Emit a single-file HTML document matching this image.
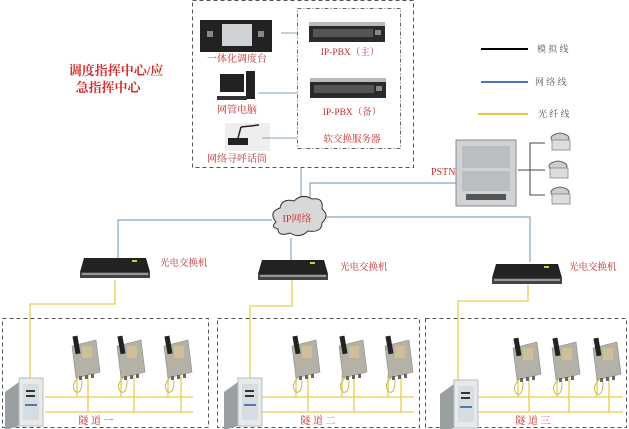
<!DOCTYPE html>
<html><head><meta charset="utf-8"><style>
html,body{margin:0;padding:0;background:#fff;width:629px;height:429px;overflow:hidden}
text{font-family:"Liberation Serif","Noto Serif CJK SC",serif}
</style></head><body>
<svg width="629" height="429" viewBox="0 0 629 429" xmlns="http://www.w3.org/2000/svg">
<defs>
<g id="srv"><rect x="0" y="0" width="76" height="20" fill="#2a2a2a"/><rect x="0" y="0" width="76" height="4" fill="#bbb"/><rect x="4" y="7" width="60" height="8" fill="#555"/><rect x="66" y="8" width="6" height="5" fill="#888"/></g>
<g id="sw"><polygon points="4,0 66,0 70,14 0,14" fill="#222"/><rect x="0" y="14" width="70" height="6" fill="#444"/><rect x="2" y="15" width="66" height="2" fill="#999"/><rect x="52" y="2" width="5" height="2" fill="#cc4"/></g>
<g id="ph"><polygon points="2,10 26,4 30,36 6,42" fill="#b4b2a6" stroke="#888" stroke-width="0.6"/><rect x="4" y="0" width="5" height="18" fill="#222" transform="rotate(-10 6 9)"/><rect x="12" y="10" width="10" height="12" fill="#cdbf98"/><path d="M8,42 q-8,8 -2,14 q6,2 6,-12" fill="none" stroke="#c8b560" stroke-width="1"/><rect x="9" y="40" width="3" height="4" fill="#666"/><rect x="15" y="39" width="3" height="4" fill="#666"/><rect x="21" y="38" width="3" height="4" fill="#666"/></g>
<g id="box"><polygon points="0,14 14,4 14,48 0,52" fill="#9a9fa2"/><rect x="14" y="0" width="24" height="48" fill="#e6eaec" stroke="#bbb"/><rect x="18" y="6" width="16" height="36" fill="#d6dcdf"/><rect x="21" y="12" width="9" height="2" fill="#333"/><rect x="21" y="17" width="9" height="2" fill="#333"/><rect x="20" y="26" width="12" height="2" fill="#57a"/></g>
<g id="tel"><path d="M4,8 q-4,-6 8,-8 q12,2 8,8" fill="#ccc" stroke="#666" stroke-width="1"/><rect x="4" y="7" width="18" height="10" fill="#ddd" stroke="#888" stroke-width="0.8"/></g>
</defs>

<rect x="192.5" y="0.5" width="221" height="167" fill="none" stroke="#555" stroke-dasharray="4,3"/>
<rect x="297.5" y="8.5" width="103" height="140" fill="none" stroke="#666" stroke-dasharray="4,2,1,2"/>

<rect x="200" y="20" width="72" height="32" fill="#222"/>
<rect x="222" y="24" width="30" height="22" fill="#cfd3d6"/>
<rect x="207" y="31" width="6" height="6" fill="#888"/><rect x="258" y="31" width="6" height="6" fill="#888"/>
<text x="237" y="62" font-size="10" fill="#c03030" text-anchor="middle">一体化调度台</text>
<line x1="281" y1="33" x2="297" y2="33" stroke="#7fa6c0"/>
<rect x="220" y="74" width="24" height="18" fill="#222"/><rect x="246" y="71" width="9" height="28" fill="#222"/><rect x="217" y="96" width="30" height="4" fill="#333"/>
<text x="237" y="113" font-size="10" fill="#c03030" text-anchor="middle">网管电脑</text>
<line x1="258" y1="93" x2="297" y2="93" stroke="#7fa6c0"/>
<rect x="225" y="123" width="45" height="28" fill="#eee"/>
<rect x="228" y="138" width="20" height="7" fill="#222"/><line x1="238" y1="138" x2="241" y2="127" stroke="#222" stroke-width="1.5"/><line x1="241" y1="127" x2="259" y2="125" stroke="#222" stroke-width="1.5"/>
<text x="237" y="162" font-size="10" fill="#c03030" text-anchor="middle">网络寻呼话筒</text>
<line x1="262" y1="138" x2="297" y2="138" stroke="#7fa6c0"/>
<use href="#srv" x="309" y="22"/><use href="#srv" x="310" y="78"/>
<text x="350" y="55" font-size="9.5" fill="#c03030" text-anchor="middle">IP-PBX（主）</text>
<text x="352" y="115" font-size="9.5" fill="#c03030" text-anchor="middle">IP-PBX（备）</text>
<text x="352" y="142" font-size="9.5" fill="#c03030" text-anchor="middle">软交换服务器</text>

<text x="116" y="75" font-size="13" fill="#d03030" text-anchor="middle" font-weight="bold">调度指挥中心/应</text>
<text x="108" y="92" font-size="13" fill="#d03030" text-anchor="middle" font-weight="bold">急指挥中心</text>

<line x1="481" y1="49" x2="528" y2="49" stroke="#000" stroke-width="2"/>
<line x1="481" y1="82" x2="528" y2="82" stroke="#4a78c0" stroke-width="2"/>
<line x1="478" y1="114" x2="528" y2="114" stroke="#e8c840" stroke-width="2"/>
<text x="537" y="52" font-size="9" fill="#556">模 拟 线</text>
<text x="535" y="85" font-size="9" fill="#556">网 络 线</text>
<text x="538" y="117" font-size="9" fill="#556">光 纤 线</text>

<g stroke="#8aa8be" fill="none" stroke-width="1.2">
<polyline points="301,168 301,203"/>
<polyline points="310,206 310,183 456,183"/>
<polyline points="272,220 118,220 118,258"/>
<polyline points="291,238 291,260"/>
<polyline points="325,217 530,217 530,262"/>
</g>
<path d="M276,222 q-8,-10 4,-14 q2,-10 14,-7 q8,-8 18,-2 q12,-2 10,10 q8,6 0,14 q0,10 -14,8 q-8,8 -18,2 q-12,4 -12,-4 q-8,-2 -2,-7z" fill="#d8d8d8" stroke="#333" stroke-width="1"/>
<text x="297" y="222" font-size="10" fill="#c03030" text-anchor="middle">IP网络</text>

<rect x="456" y="140" width="60" height="66" fill="#d0d3d6" stroke="#888"/>
<rect x="462" y="146" width="48" height="22" fill="#b8bec2"/><rect x="462" y="171" width="48" height="20" fill="#b8bec2"/>
<rect x="466" y="194" width="40" height="6" fill="#555"/>
<text x="431" y="175" font-size="10" fill="#c03030">PSTN</text>
<g stroke="#444" fill="none"><polyline points="518,170 530,170"/><polyline points="545,143 530,143 530,195 545,195"/><line x1="530" y1="170" x2="545" y2="170"/></g>
<use href="#tel" x="548" y="133"/><use href="#tel" x="546" y="161"/><use href="#tel" x="548" y="187"/>

<use href="#sw" x="80" y="258"/><use href="#sw" x="258" y="260"/><use href="#sw" x="492" y="264"/>
<text x="160" y="266" font-size="9.5" fill="#c03030">光电交换机</text>
<text x="340" y="270" font-size="9.5" fill="#c03030">光电交换机</text>
<text x="569" y="270" font-size="9.5" fill="#c03030">光电交换机</text>

<g stroke="#e8d050" fill="none" stroke-width="1.3">
<polyline points="115,280 115,304 30,304 30,380"/>
<polyline points="292,280 292,306 250,306 250,382"/>
<polyline points="528,285 528,301 458,301 458,385"/>
<line x1="45" y1="397" x2="193" y2="397"/><line x1="45" y1="412" x2="193" y2="412"/>
<line x1="262" y1="397" x2="414" y2="397"/><line x1="262" y1="412" x2="414" y2="412"/>
<line x1="475" y1="397" x2="623" y2="397"/><line x1="475" y1="412" x2="623" y2="412"/>
<path d="M77,375V397M88,375V412M121,375V397M134,375V412M168,375V397M181,375V412"/>
<path d="M296,375V397M308,375V412M342,375V397M354,375V412M388,375V397M401,375V412"/>
<path d="M518,375V397M529,375V412M557,375V397M569,375V412M597,375V397M609,375V412"/>
</g>

<rect x="2.5" y="318.5" width="206" height="109" fill="none" stroke="#555" stroke-dasharray="4,3"/>
<rect x="217.5" y="318.5" width="202" height="109" fill="none" stroke="#555" stroke-dasharray="4,3"/>
<rect x="425.5" y="318.5" width="201" height="109" fill="none" stroke="#555" stroke-dasharray="4,3"/>

<use href="#ph" x="70" y="336"/><use href="#ph" x="115" y="336"/><use href="#ph" x="162" y="336"/>
<use href="#ph" x="290" y="336"/><use href="#ph" x="337" y="336"/><use href="#ph" x="383" y="336"/>
<use href="#ph" x="511" y="338"/><use href="#ph" x="550" y="338"/><use href="#ph" x="591" y="338"/>

<use href="#box" x="5" y="378"/><use href="#box" x="224" y="378"/><use href="#box" x="440" y="380"/>

<text x="96" y="424" font-size="10" fill="#c03030" text-anchor="middle">隧 道 一</text>
<text x="318" y="424" font-size="10" fill="#c03030" text-anchor="middle">隧 道 二</text>
<text x="533" y="424" font-size="10" fill="#c03030" text-anchor="middle">隧 道 三</text>
</svg>
</body></html>
